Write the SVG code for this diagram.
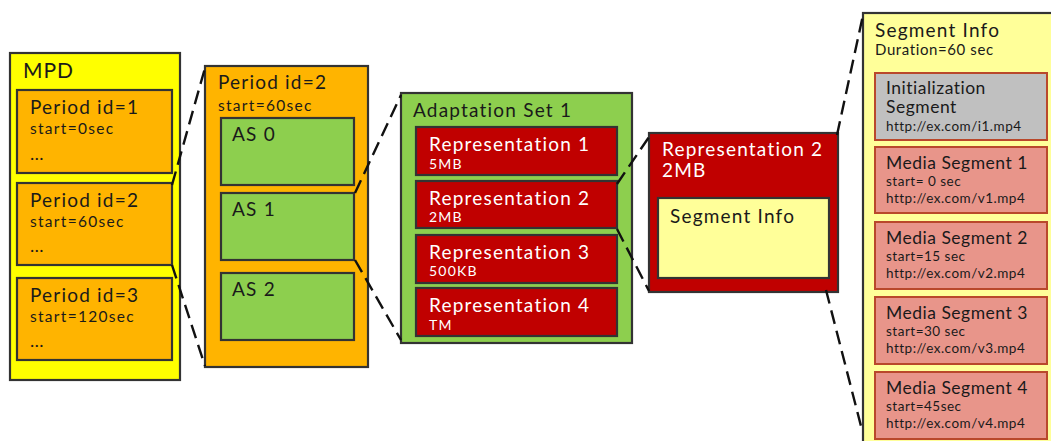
<svg xmlns="http://www.w3.org/2000/svg" width="1051" height="441" viewBox="0 0 1051 441">
  <style>
    text { font-family: "Lato", "Open Sans", "Liberation Sans", sans-serif; fill: #1a1a1a; }
    .box { stroke: #333; stroke-width: 2.2; }
    .mpd { fill: #FFFF00; }
    .period { fill: #FFB400; }
    .as { fill: #8DCF4E; }
    .rep { fill: #C00000; }
    .info { fill: #FFFF99; }
    .seg { fill: #E8958A; stroke: #B9482B; stroke-width: 2; }
    .init { fill: #C0C0C0; stroke: #B9482B; stroke-width: 2; }
    .w { fill: #ffffff; }
    .h1 { font-size: 21px; letter-spacing: 1px; }
    .h2 { font-size: 19px; letter-spacing: 1.2px; }
    .s { font-size: 15.5px; letter-spacing: 1.3px; }
    .dots { font-size: 18px; letter-spacing: 1px; }
    .xs { font-size: 14px; letter-spacing: 1.2px; }
    .sh { font-size: 17.5px; letter-spacing: 0.5px; }
    .ss { font-size: 15px; letter-spacing: 0.6px; }
    .sx { font-size: 13.5px; letter-spacing: 0.5px; }
    .link { fill: none; stroke: #111; stroke-width: 2.4; stroke-dasharray: 14 7; }
  </style>

  <!-- MPD with its three periods -->
  <g id="mpd">
    <rect class="box mpd" x="10" y="53" width="170" height="327"/>
    <text class="h1" x="23" y="78">MPD</text>
  </g>
  <g id="period1">
    <rect class="box period" x="17" y="90" width="155" height="83"/>
    <text class="h2" x="30" y="114">Period id=1</text>
    <text class="s" x="30" y="134">start=0sec</text>
    <text class="dots" x="30" y="160">…</text>
  </g>
  <g id="period2">
    <rect class="box period" x="17" y="183" width="155" height="82"/>
    <text class="h2" x="30" y="207">Period id=2</text>
    <text class="s" x="30" y="227">start=60sec</text>
    <text class="dots" x="30" y="252">…</text>
  </g>
  <g id="period3">
    <rect class="box period" x="17" y="278" width="155" height="82"/>
    <text class="h2" x="30" y="302">Period id=3</text>
    <text class="s" x="30" y="322">start=120sec</text>
    <text class="dots" x="30" y="347">…</text>
  </g>

  <!-- Period 2 expanded -->
  <g id="period2-detail">
    <rect class="box period" x="205" y="66" width="163" height="301"/>
    <text class="h2" x="218" y="89">Period id=2</text>
    <text class="s" x="218" y="111">start=60sec</text>
  </g>
  <g id="as0">
    <rect class="box as" x="221" y="118" width="133" height="67"/>
    <text class="h2" x="232" y="141">AS 0</text>
  </g>
  <g id="as1">
    <rect class="box as" x="221" y="193" width="133" height="67"/>
    <text class="h2" x="232" y="216">AS 1</text>
  </g>
  <g id="as2">
    <rect class="box as" x="221" y="273" width="133" height="67"/>
    <text class="h2" x="232" y="296">AS 2</text>
  </g>

  <!-- Adaptation set 1 expanded -->
  <g id="adaptation-set-1">
    <rect class="box as" x="401" y="93" width="231" height="250"/>
    <text class="h2" x="413" y="117">Adaptation Set 1</text>
  </g>
  <g id="rep1">
    <rect class="box rep" x="416" y="127" width="201" height="48"/>
    <text class="h2 w" x="429" y="151">Representation 1</text>
    <text class="xs w" x="429" y="169">5MB</text>
  </g>
  <g id="rep2">
    <rect class="box rep" x="416" y="181" width="201" height="47"/>
    <text class="h2 w" x="429" y="205">Representation 2</text>
    <text class="xs w" x="429" y="222">2MB</text>
  </g>
  <g id="rep3">
    <rect class="box rep" x="416" y="235" width="201" height="48"/>
    <text class="h2 w" x="429" y="259">Representation 3</text>
    <text class="xs w" x="429" y="276">500KB</text>
  </g>
  <g id="rep4">
    <rect class="box rep" x="416" y="288" width="201" height="48"/>
    <text class="h2 w" x="429" y="312">Representation 4</text>
    <text class="xs w" x="429" y="330">TM</text>
  </g>

  <!-- Representation 2 expanded -->
  <g id="rep2-detail">
    <rect class="box rep" x="649" y="133" width="189" height="159"/>
    <text class="h2 w" x="662" y="156">Representation 2</text>
    <text class="h2 w" x="662" y="177">2MB</text>
  </g>
  <g id="segment-info-small">
    <rect class="box info" x="658" y="198" width="171" height="80"/>
    <text class="h2" x="670" y="223">Segment Info</text>
  </g>

  <!-- Segment info expanded -->
  <g id="segment-info">
    <rect class="box info" x="863" y="13" width="200" height="440"/>
    <text class="h2" x="875" y="37">Segment Info</text>
    <text class="ss" x="875" y="55">Duration=60 sec</text>
  </g>
  <g id="init-segment">
    <rect class="init" x="875" y="73" width="172" height="67"/>
    <text class="sh" x="886" y="94">Initialization</text>
    <text class="sh" x="886" y="113">Segment</text>
    <text class="sx" x="886" y="131">http://ex.com/i1.mp4</text>
  </g>
  <g id="media-segment-1">
    <rect class="seg" x="875" y="147" width="172" height="66"/>
    <text class="sh" x="886" y="169">Media Segment 1</text>
    <text class="sx" x="886" y="186">start= 0 sec</text>
    <text class="sx" x="886" y="203">http://ex.com/v1.mp4</text>
  </g>
  <g id="media-segment-2">
    <rect class="seg" x="875" y="222" width="172" height="67"/>
    <text class="sh" x="886" y="244">Media Segment 2</text>
    <text class="sx" x="886" y="261">start=15 sec</text>
    <text class="sx" x="886" y="278">http://ex.com/v2.mp4</text>
  </g>
  <g id="media-segment-3">
    <rect class="seg" x="875" y="297" width="172" height="67"/>
    <text class="sh" x="886" y="319">Media Segment 3</text>
    <text class="sx" x="886" y="336">start=30 sec</text>
    <text class="sx" x="886" y="353">http://ex.com/v3.mp4</text>
  </g>
  <g id="media-segment-4">
    <rect class="seg" x="875" y="372" width="172" height="67"/>
    <text class="sh" x="886" y="394">Media Segment 4</text>
    <text class="sx" x="886" y="411">start=45sec</text>
    <text class="sx" x="886" y="428">http://ex.com/v4.mp4</text>
  </g>

  <!-- zoom-in guide lines -->
  <g id="connectors">
    <line class="link" x1="172" y1="185" x2="205" y2="68"/>
    <line class="link" x1="172" y1="265" x2="205" y2="366"/>
    <line class="link" x1="355" y1="193" x2="401" y2="95"/>
    <line class="link" x1="355" y1="260" x2="401" y2="340"/>
    <line class="link" x1="617" y1="184" x2="649" y2="137"/>
    <line class="link" x1="617" y1="229" x2="649" y2="291"/>
    <line class="link" x1="837" y1="135" x2="863" y2="15"/>
    <line class="link" x1="826" y1="290" x2="862" y2="430"/>
  </g>
</svg>
